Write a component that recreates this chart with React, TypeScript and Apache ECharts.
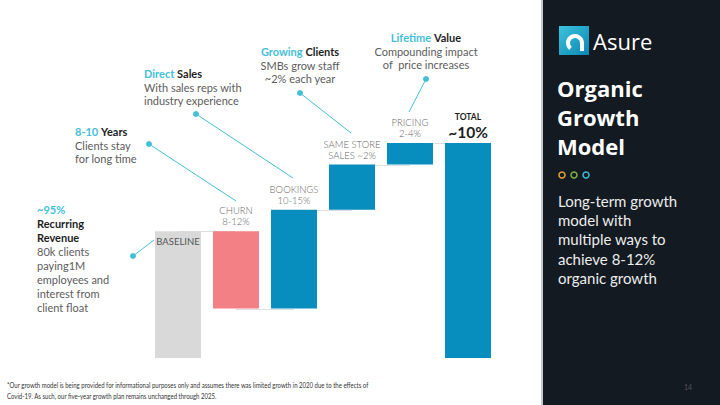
import React, { useEffect, useRef } from "react";
import * as echarts from "echarts";

const categories = ["BASELINE", "CHURN", "BOOKINGS", "SAME STORE", "PRICING", "TOTAL"];
const barLabels = ["BASELINE", "CHURN\n8-12%", "BOOKINGS\n10-15%", "SAME STORE\nSALES ~2%", "PRICING\n2-4%", "TOTAL"];
const totalLabel = "~10%";
const deltas = [59, -36, 46, 21, 10, 0];
const kinds = ["base", "down", "up", "up", "up", "total"];
const barColors = ["#d9d9d9", "#f28084", "#078ebf", "#078ebf", "#078ebf", "#078ebf"];

const footnote = [
  "*Our growth model is being provided for informational purposes only and assumes there was limited growth in 2020 due to the effects of",
  "Covid-19. As such, our five-year growth plan remains unchanged through 2025.",
];
const sideBody = ["Long-term growth", "model with", "multiple ways to", "achieve 8-12%", "organic growth"];

const CYAN = "#43c0d7";
const BODY = "#5c5c5c";
const DARK = "#1e1e1e";
const FONT = "Lato, 'Open Sans', sans-serif";

export default function App() {
  const ref = useRef<HTMLDivElement>(null);
  useEffect(() => {
    document.body.style.margin = "0";
    const chart = echarts.init(ref.current!, null, { renderer: "svg" });

    const helper: number[] = [];
    const values: number[] = [];
    const levels: number[] = [];
    let level = 0;
    deltas.forEach((d, i) => {
      const k = kinds[i];
      if (k === "base") {
        helper.push(0); values.push(d); level = d;
      } else if (k === "down") {
        level += d; helper.push(level); values.push(-d);
      } else if (k === "up") {
        helper.push(level); values.push(d); level += d;
      } else {
        helper.push(0); values.push(level);
      }
      levels.push(level);
    });
    const connectors = levels.slice(0, -1).map((l, i) => [i, l]);

    const annText = (x: number, y: number, text: string, align: string, lh: number) => ({
      type: "text",
      x, y,
      style: {
        text,
        align,
        verticalAlign: "top",
        font: `11px ${FONT}`,
        fill: BODY,
        lineHeight: lh,
        rich: {
          c: { fontFamily: FONT, fontSize: 11, fontWeight: "bold", fill: CYAN, lineHeight: lh, color: CYAN },
          b: { fontFamily: FONT, fontSize: 11, fontWeight: "bold", fill: DARK, lineHeight: lh, color: DARK },
          n: { fontFamily: FONT, fontSize: 11, fontWeight: "normal", fill: BODY, lineHeight: lh, color: BODY },
        },
      },
    });
    const pointer = (x1: number, y1: number, x2: number, y2: number) => [
      { type: "line", shape: { x1, y1, x2, y2 }, style: { stroke: CYAN, lineWidth: 1 } },
      { type: "circle", shape: { cx: x1, cy: y1, r: 3 }, style: { fill: CYAN } },
    ];

    const graphic: any[] = [
      annText(37, 202, "{c|~95%}\n{b|Recurring}\n{b|Revenue}\n{n|80k clients}\n{n|paying1M}\n{n|employees and}\n{n|interest from}\n{n|client float}", "left", 14.1),
      ...pointer(133, 256, 154, 240),
      annText(75, 125, "{c|8-10} {b|Years}\n{n|Clients stay}\n{n|for long time}", "left", 13.5),
      ...pointer(149, 144, 236, 201),
      annText(144, 67, "{c|Direct} {b|Sales}\n{n|With sales reps with}\n{n|industry experience}", "left", 13.5),
      ...pointer(196, 114, 293, 178),
      annText(300, 45, "{c|Growing} {b|Clients}\n{n|SMBs grow staff}\n{n|~2% each year}", "center", 13.5),
      ...pointer(300, 93, 351, 133),
      annText(426, 31, "{c|Lifetime} {b|Value}\n{n|Compounding impact}\n{n|of  price increases}", "center", 13.5),
      ...pointer(426, 79, 409, 112),
      {
        type: "text", x: 7, y: 380, scaleX: 0.755, scaleY: 1,
        style: { text: footnote.join("\n"), font: `8px ${FONT}`, fill: "#333", lineHeight: 11, verticalAlign: "top" },
      },
      { type: "rect", shape: { x: 541, y: 0, width: 2, height: 405 }, style: { fill: "#c9c9c9" } },
      { type: "rect", shape: { x: 543, y: 0, width: 177, height: 405 }, style: { fill: "#131a21" } },
      {
        type: "rect", shape: { x: 559, y: 26, width: 30, height: 29 },
        style: {
          fill: new echarts.graphic.LinearGradient(0, 0, 1, 1, [
            { offset: 0, color: "#3cc3dc" },
            { offset: 1, color: "#0b86b3" },
          ]),
        },
      },
      { type: "arc", shape: { cx: 575, cy: 43, r: 7, startAngle: Math.PI * 0.72, endAngle: Math.PI * 2, clockwise: true }, style: { stroke: "#fff", lineWidth: 4, fill: "none" } },
      { type: "rect", shape: { x: 580, y: 42, width: 4, height: 9 }, style: { fill: "#fff" } },
      { type: "text", x: 593, y: 41, style: { text: "Asure", font: `22px 'Open Sans', sans-serif`, fill: "#fff", verticalAlign: "middle" } },
      { type: "text", x: 557, y: 73, style: { text: "Organic\nGrowth\nModel", font: `bold 22px 'Open Sans', sans-serif`, fill: "#fff", lineHeight: 29, verticalAlign: "top" } },
      { type: "circle", shape: { cx: 562, cy: 175, r: 3 }, style: { fill: "none", stroke: "#e7a23a", lineWidth: 1.5 } },
      { type: "circle", shape: { cx: 574, cy: 175, r: 3 }, style: { fill: "none", stroke: "#7ab648", lineWidth: 1.5 } },
      { type: "circle", shape: { cx: 586, cy: 175, r: 3 }, style: { fill: "none", stroke: "#3bbfd6", lineWidth: 1.5 } },
      { type: "text", x: 558, y: 191, style: { text: sideBody.join("\n"), font: `15px Lato, sans-serif`, fill: "#ececec", lineHeight: 19.3, verticalAlign: "top" } },
      { type: "text", x: 684, y: 387, style: { text: "14", font: `7px ${FONT}`, fill: "#555", verticalAlign: "middle" } },
    ];

    chart.setOption({
      animation: false,
      backgroundColor: "#ffffff",
      grid: { left: 149, right: 223, top: 143, bottom: 47 },
      xAxis: { type: "category", data: categories, show: false },
      yAxis: { type: "value", min: 0, max: 100, show: false },
      series: [
        {
          type: "custom",
          z: 1,
          data: connectors,
          renderItem: (params: any, api: any) => {
            const p1 = api.coord([api.value(0), api.value(1)]);
            const p2 = api.coord([api.value(0) + 1, api.value(1)]);
            const y = Math.round(p1[1]) + 0.5;
            return { type: "line", shape: { x1: p1[0], y1: y, x2: p2[0], y2: y }, style: { stroke: "#dedede", lineWidth: 1 } };
          },
        },
        {
          type: "bar", stack: "w", z: 2, barWidth: 46,
          itemStyle: { color: "transparent" },
          data: helper,
          silent: true,
        },
        {
          type: "bar", stack: "w", z: 2, barWidth: 46,
          data: values.map((v, i) => ({
            value: v,
            itemStyle: { color: barColors[i] },
            label: kinds[i] === "base"
              ? { show: true, position: "insideTop", distance: 5, formatter: barLabels[i], fontFamily: FONT, fontSize: 9.5, color: "#555", lineHeight: 11 }
              : kinds[i] === "total"
              ? {
                  show: true, position: "top", distance: 3,
                  formatter: `{t|${barLabels[i]}}\n{v|${totalLabel}}`,
                  rich: {
                    t: { fontFamily: FONT, fontSize: 8.5, fontWeight: "bold", color: DARK, lineHeight: 13 },
                    v: { fontFamily: FONT, fontSize: 15.5, fontWeight: "bold", color: DARK, lineHeight: 17 },
                  },
                }
              : { show: true, position: "top", distance: 4, formatter: barLabels[i], fontFamily: FONT, fontSize: 9.5, fontWeight: 300, color: "#666", lineHeight: 11 },
          })),
        },
      ],
      graphic,
    });
    return () => chart.dispose();
  }, []);
  return <div ref={ref} style={{ position: "absolute", left: 0, top: 0, width: 720, height: 405 }} />;
}
